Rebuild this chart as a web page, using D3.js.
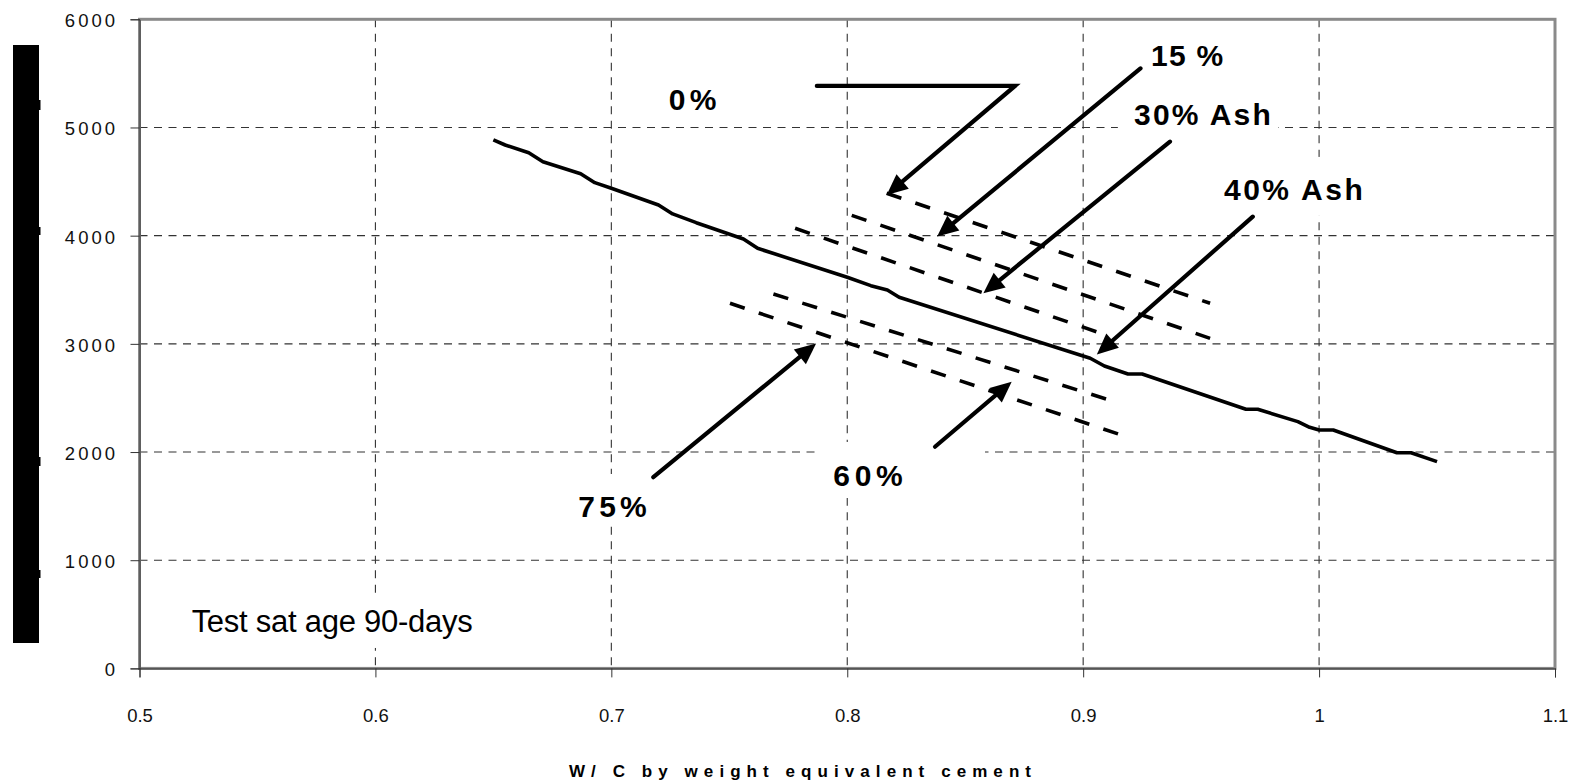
<!DOCTYPE html>
<html><head><meta charset="utf-8">
<script src="https://cdn.jsdelivr.net/npm/d3@7"></script>
<style>
html,body{margin:0;padding:0;background:#fff;}
svg{display:block;font-family:Arial,"Liberation Sans",sans-serif;}
</style></head><body>
<svg id="chart" width="1577" height="784"></svg>
<script>
// ---------- data ----------
const xTicks = [0.5, 0.6, 0.7, 0.8, 0.9, 1, 1.1];
const xTickLabels = ["0.5", "0.6", "0.7", "0.8", "0.9", "1", "1.1"];
const yTicks = [0, 1000, 2000, 3000, 4000, 5000, 6000];
const yTickLabels = ["0", "1000", "2000", "3000", "4000", "5000", "6000"];

// solid curve
const solidX = [0.650,0.655,0.665,0.671,0.687,0.693,0.700,0.720,0.726,0.736,0.756,0.762,0.800,0.810,0.817,0.822,0.903,0.909,0.919,0.925,0.969,0.974,0.991,0.996,1.000,1.006,1.033,1.039,1.050];
const solidY = [4885,4838,4767,4684,4572,4490,4438,4284,4201,4120,3969,3883,3615,3538,3498,3431,2867,2795,2721,2721,2395,2395,2281,2229,2204,2204,1994,1994,1911];

// dashed lines (start / end)
const dashedStartX = [0.8167, 0.8019, 0.7779, 0.7687, 0.7503];
const dashedStartY = [4392, 4188, 4068, 3461, 3375];
const dashedEndX   = [0.9538, 0.9538, 0.9059, 0.9100, 0.9149];
const dashedEndY   = [3375, 3051, 3110, 2488, 2167];

// annotation labels
const annoText = ["0%", "15 %", "30% Ash", "40% Ash", "60%", "75%"];
const annoX = [0.7243, 0.9288, 0.9216, 0.9597, 0.7941, 0.6860];
const annoY = [5166, 5569, 5023, 4330, 1686, 1402];
const noteText = "Test sat age 90-days";
const noteX = 0.5221, noteY = 334;

// arrows (from -> tip)
const arrowFromX = [0.9243, 0.9368, 0.9719, 0.7178, 0.8372];
const arrowFromY = [5546, 4869, 4176, 1767, 2049];
const arrowToX   = [0.8381, 0.8577, 0.9058, 0.7868, 0.8697];
const arrowToY   = [3992, 3467, 2902, 3003, 2650];
// elbow arrow for 0%
const elbowX = [0.7871, 0.8711, 0.8167];
const elbowY = [5384, 5384, 4376];

// white text-box backgrounds (data units)
const boxX0 = [0.7872, 0.6804, 0.9538, 0.5193, 0.9147];
const boxX1 = [0.8584, 0.7207, 1.0237, 0.6443, 0.9826];
const boxY0 = [1575, 1335, 4183, 189, 4967];
const boxY1 = [2093, 1797, 4728, 679, 5254];

const xTitle = "W/ C by weight equivalent cement";

// ---------- layout ----------
const svg = d3.select("#chart");
const x = d3.scaleLinear().domain([0.5, 1.1]).range([139.5, 1555]);
const y = d3.scaleLinear().domain([0, 6000]).range([668.4, 19.3]);
const L = x(0.5), R = x(1.1), T = y(6000), B = y(0);

// black bar at left
svg.append("rect").attr("x", 13).attr("y", 45).attr("width", 26).attr("height", 598).attr("fill", "#000");
[[100, 10], [227, 8], [457, 9], [570, 8]].forEach(([yy, h]) =>
  svg.append("rect").attr("x", 38).attr("y", yy).attr("width", 2.5).attr("height", h).attr("fill", "#000"));

// gridlines
const grid = svg.append("g").attr("stroke", "#333").attr("stroke-width", 1.1).attr("stroke-dasharray", "8,6.5");
grid.selectAll(".h").data(yTicks.filter(v => v > 0 && v < 6000)).join("line")
  .attr("x1", L).attr("x2", R).attr("y1", d => y(d)).attr("y2", d => y(d));
grid.selectAll(".v").data(xTicks.filter(v => v > 0.5 && v < 1.1)).join("line")
  .attr("y1", T).attr("y2", B).attr("x1", d => x(d)).attr("x2", d => x(d));

// white text boxes covering gridlines
svg.append("g").selectAll("rect").data(boxX0).join("rect")
  .attr("x", (d, i) => x(boxX0[i])).attr("width", (d, i) => x(boxX1[i]) - x(boxX0[i]))
  .attr("y", (d, i) => y(boxY1[i])).attr("height", (d, i) => y(boxY0[i]) - y(boxY1[i]))
  .attr("fill", "#fff");

// plot border
svg.append("rect").attr("x", L).attr("y", T).attr("width", R - L).attr("height", B - T)
  .attr("fill", "none").attr("stroke", "#8a8a8a").attr("stroke-width", 3);

// axes
const yAxis = d3.axisLeft(y).tickValues(yTicks).tickFormat((d, i) => yTickLabels[i]).tickSize(9).tickPadding(12.5);
const gy = svg.append("g").attr("transform", `translate(${L},0)`).call(yAxis);
gy.select(".domain").attr("stroke", "#333").attr("stroke-width", 1);
gy.selectAll(".tick line").attr("stroke", "#333");
gy.selectAll(".tick text").attr("font-size", 18.5).attr("fill", "#111")
  .attr("letter-spacing", "3px").attr("dy", 0).attr("y", 7.4);

const xAxis = d3.axisBottom(x).tickValues(xTicks).tickFormat((d, i) => xTickLabels[i]).tickSize(9);
const gx = svg.append("g").attr("transform", `translate(0,${B})`).call(xAxis);
gx.select(".domain").attr("stroke", "#333").attr("stroke-width", 1);
gx.selectAll(".tick line").attr("stroke", "#333");
gx.selectAll(".tick text").attr("font-size", 18.5).attr("fill", "#111").attr("dy", 0).attr("y", 53.5);

// x title
svg.append("text").attr("x", 569).attr("y", 777).attr("font-size", 17).attr("font-weight", "bold")
  .attr("fill", "#000").attr("textLength", 462).attr("lengthAdjust", "spacing").text(xTitle);

// solid line
const line = d3.line().x(d => x(d[0])).y(d => y(d[1]));
svg.append("path").datum(solidX.map((v, i) => [v, solidY[i]])).attr("d", line)
  .attr("fill", "none").attr("stroke", "#000").attr("stroke-width", 3.6).attr("stroke-linejoin", "round");

// dashed lines
svg.append("g").selectAll("path").data(dashedStartX).join("path")
  .attr("d", (d, i) => line([[dashedStartX[i], dashedStartY[i]], [dashedEndX[i], dashedEndY[i]]]))
  .attr("fill", "none").attr("stroke", "#000").attr("stroke-width", 3.6).attr("stroke-dasharray", "15.5,14.8");

// arrows
function arrow(pts) {
  const p = pts.map(d => [x(d[0]), y(d[1])]);
  const a = p[p.length - 2], b = p[p.length - 1];
  const dx = b[0] - a[0], dy = b[1] - a[1], len = Math.hypot(dx, dy);
  const ux = dx / len, uy = dy / len;
  const hl = 21, hw = 9.5;
  const bx = b[0] - ux * hl, by = b[1] - uy * hl;
  const linePts = p.slice(0, -1).concat([[b[0] - ux * 12, b[1] - uy * 12]]);
  svg.append("path").attr("d", d3.line()(linePts)).attr("fill", "none").attr("stroke", "#000")
    .attr("stroke-width", 4.2).attr("stroke-linecap", "round").attr("stroke-linejoin", "miter");
  svg.append("path").attr("d", `M${b[0]},${b[1]}L${bx - uy * hw},${by + ux * hw}L${bx + uy * hw},${by - ux * hw}Z`)
    .attr("fill", "#000");
}
arrowFromX.forEach((v, i) => arrow([[arrowFromX[i], arrowFromY[i]], [arrowToX[i], arrowToY[i]]]));
arrow(elbowX.map((v, i) => [v, elbowY[i]]));

// annotation texts
const annoW = [47.7, 72, 136.6, 138.7, 69.4, 68.4];
svg.append("g").selectAll("text").data(annoText).join("text")
  .attr("x", (d, i) => x(annoX[i])).attr("y", (d, i) => y(annoY[i]))
  .attr("font-size", 30).attr("font-weight", "bold").attr("fill", "#000")
  .attr("textLength", (d, i) => annoW[i]).attr("lengthAdjust", "spacing")
  .text(d => d);

svg.append("text").attr("x", x(noteX)).attr("y", y(noteY)).attr("font-size", 31).attr("fill", "#000")
  .attr("textLength", 281).attr("lengthAdjust", "spacing").text(noteText);
</script>
</body></html>
